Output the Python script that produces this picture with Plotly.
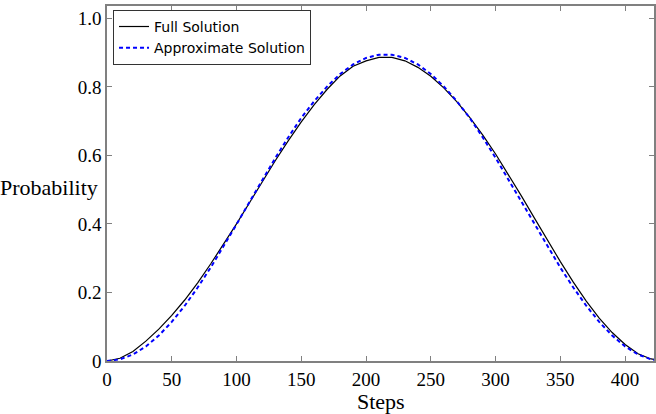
import plotly.graph_objects as go

steps = [0, 10, 20, 30, 40, 50, 60, 70, 80, 90, 100, 110, 120, 130, 140, 150, 160, 170, 180, 190,
         200, 210, 220, 230, 240, 250, 260, 270, 280, 290, 300, 310, 320, 330, 340, 350, 360, 370,
         380, 390, 400, 410, 420, 430]

full_solution = [0.0, 0.008, 0.028, 0.058, 0.093, 0.133, 0.178, 0.228, 0.283, 0.340, 0.400, 0.462,
                 0.524, 0.585, 0.643, 0.698, 0.748, 0.793, 0.832, 0.860, 0.876, 0.886, 0.886, 0.876,
                 0.857, 0.831, 0.797, 0.757, 0.711, 0.660, 0.604, 0.544, 0.481, 0.417, 0.353, 0.290,
                 0.230, 0.175, 0.125, 0.083, 0.048, 0.021, 0.006, 0.001]

approx_solution = [0.0, 0.0048, 0.0190, 0.0423, 0.0743, 0.1142, 0.1613, 0.2144, 0.2725, 0.3343,
                   0.3987, 0.4641, 0.5292, 0.5928, 0.6532, 0.7095, 0.7586, 0.8013, 0.8375, 0.8655,
                   0.8844, 0.8938, 0.8938, 0.8844, 0.8655, 0.8375, 0.8013, 0.7586, 0.7095, 0.6532,
                   0.5928, 0.5292, 0.4641, 0.3987, 0.3343, 0.2725, 0.2144, 0.1613, 0.1142, 0.0743,
                   0.0423, 0.0190, 0.0048, 0.0]

x_ticks = [0, 50, 100, 150, 200, 250, 300, 350, 400]
y_ticks = [0, 0.2, 0.4, 0.6, 0.8, 1.0]
y_tick_labels = ["0", "0.2", "0.4", "0.6", "0.8", "1.0"]

fig = go.Figure()
fig.add_trace(go.Scatter(x=steps, y=full_solution, mode="lines", name="Full Solution",
                         line=dict(color="black", width=1.2)))
fig.add_trace(go.Scatter(x=steps, y=approx_solution, mode="lines", name="Approximate Solution",
                         line=dict(color="#0000ff", width=2, dash="4px,3px")))

serif = "Liberation Serif"
axis_common = dict(showline=True, linecolor="#808080", linewidth=1.5, mirror="ticks",
                   ticks="inside", ticklen=5, tickcolor="#808080", showgrid=False, zeroline=False,
                   tickfont=dict(family=serif, size=19, color="black"))

fig.update_layout(
    width=656, height=414,
    font=dict(family=serif, size=19, color="black"),
    margin=dict(l=107, r=0, t=6, b=53),
    paper_bgcolor="white", plot_bgcolor="white",
    xaxis=dict(range=[0, 422.3], tickvals=x_ticks, ticklabelstandoff=0, **axis_common),
    yaxis=dict(range=[0, 1.036], tickvals=y_ticks, ticktext=y_tick_labels,
               ticklabelstandoff=0, **axis_common),
    showlegend=True,
    legend=dict(x=0.011, y=0.989, xanchor="left", yanchor="top",
                bgcolor="white", bordercolor="#333", borderwidth=1,
                font=dict(family="DejaVu Sans", size=14, color="black"),
                tracegroupgap=0, itemwidth=30),
    annotations=[
        dict(text="Steps", xref="paper", yref="paper", x=0.5, y=-0.115, xanchor="center",
             yanchor="middle", showarrow=False, font=dict(family=serif, size=22, color="black")),
        dict(text="Probability", xref="paper", yref="paper", x=-0.013, y=0.49, xanchor="right",
             yanchor="middle", showarrow=False, font=dict(family=serif, size=22, color="black")),
    ],
)

fig.write_html("out.html")
